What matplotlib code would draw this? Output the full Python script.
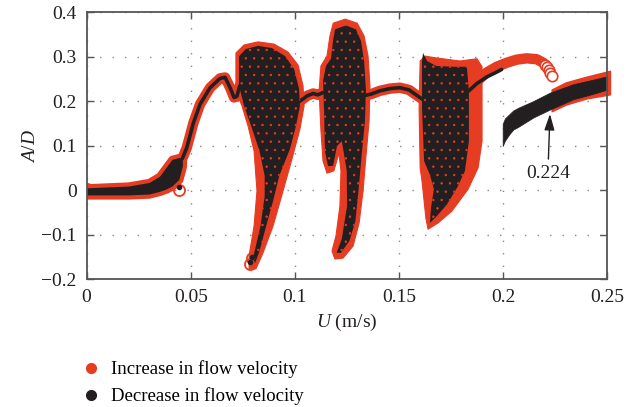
import matplotlib
matplotlib.use('Agg')
import matplotlib.pyplot as plt
from matplotlib.lines import Line2D
from matplotlib.ticker import FixedLocator, FuncFormatter

plt.rcParams['font.family'] = ['Liberation Serif', 'DejaVu Serif']
plt.rcParams['mathtext.fontset'] = 'custom'
plt.rcParams['mathtext.rm'] = 'Liberation Serif'
plt.rcParams['mathtext.it'] = 'Liberation Serif:italic'
plt.rcParams['hatch.linewidth'] = 0.5

RED = '#E63C22'
BLACK = '#231F20'

# ---- data (U in m/s, A/D) ----
# narrow band at low velocity
wedge_u = [0.0, 0.01, 0.02, 0.03, 0.035, 0.038, 0.041, 0.0443, 0.046]
wedge_hi = [0.006, 0.008, 0.010, 0.018, 0.032, 0.051, 0.070, 0.074, 0.072]
wedge_lo = [-0.010, -0.010, -0.010, -0.008, -0.002, 0.003, 0.010, 0.025, 0.055]

# periodic branches (both sweeps)
rise_u = [0.046, 0.0481, 0.0513, 0.0545, 0.0593, 0.0641, 0.0665, 0.0689, 0.0708, 0.0722, 0.0735]
rise_a = [0.072, 0.096, 0.152, 0.194, 0.231, 0.252, 0.254, 0.231, 0.209, 0.212, 0.235]
mid1_u = [0.1015, 0.1040, 0.1060, 0.1088, 0.1110, 0.1135]
mid1_a = [0.198, 0.206, 0.213, 0.218, 0.215, 0.220]
mid2_u = [0.1341, 0.1368, 0.1408, 0.1456, 0.1504, 0.1548, 0.1584, 0.1612]
mid2_a = [0.214, 0.217, 0.224, 0.229, 0.231, 0.226, 0.214, 0.205]

# branch seen only when velocity increases
inc_arc_u = [0.1835, 0.1872, 0.1920, 0.1968, 0.2016, 0.2064, 0.2112, 0.2160, 0.2192, 0.2215]
inc_arc_a = [0.224, 0.245, 0.265, 0.278, 0.287, 0.294, 0.297, 0.295, 0.287, 0.272]
inc_ring_u = [0.2200, 0.2210, 0.2218, 0.2226, 0.2232]
inc_ring_a = [0.283, 0.277, 0.270, 0.263, 0.257]
inc_end_u = [0.2232, 0.2300, 0.2400, 0.2512]
inc_end_hi = [0.227, 0.243, 0.256, 0.269]
inc_end_lo = [0.178, 0.193, 0.207, 0.216]
inc_spots_u = [0.0, 0.0443, 0.0785, 0.0792]
inc_spots_a = [0.004, 0.002, -0.166, -0.152]

# branch seen only when velocity decreases
dec_arc_u = [0.1835, 0.1872, 0.1920, 0.1968, 0.1992]
dec_arc_a = [0.224, 0.240, 0.255, 0.266, 0.272]
dec_end_u = [0.1997, 0.2008, 0.2030, 0.2048, 0.2072, 0.2144, 0.2224, 0.2336, 0.2430, 0.2500]
dec_end_hi = [0.150, 0.162, 0.172, 0.180, 0.186, 0.201, 0.220, 0.239, 0.249, 0.257]
dec_end_lo = [0.100, 0.112, 0.127, 0.137, 0.143, 0.164, 0.182, 0.205, 0.217, 0.227]
dec_spots_u = [0.0443, 0.0785, 0.0792]
dec_spots_a = [0.008, -0.160, -0.150]

# chaotic regions: outlines of the increase (red) and decrease (black) clouds
r1_red_u = [0.0717, 0.0756, 0.0823, 0.0900, 0.0967, 0.1015, 0.1039, 0.1044, 0.1024, 0.0986,
            0.0943, 0.0895, 0.0847, 0.0813, 0.0780, 0.0780, 0.0804, 0.0818, 0.0804, 0.0775,
            0.0746, 0.0717]
r1_red_a = [0.309, 0.327, 0.334, 0.329, 0.311, 0.282, 0.235, 0.190, 0.138, 0.071,
            -0.001, -0.080, -0.140, -0.176, -0.176, -0.147, -0.080, -0.001, 0.089, 0.145,
            0.190, 0.224]
r1_blk_u = [0.0732, 0.0765, 0.0823, 0.0890, 0.0953, 0.0996, 0.1020, 0.1024, 0.1005, 0.0976,
            0.0925, 0.0895, 0.0862, 0.0830, 0.0809, 0.0799, 0.0835, 0.0855, 0.0855, 0.0830,
            0.0790, 0.0756, 0.0732]
r1_blk_a = [0.302, 0.318, 0.325, 0.320, 0.302, 0.273, 0.228, 0.190, 0.145, 0.093,
            0.033, -0.024, -0.080, -0.136, -0.163, -0.152, -0.080, -0.012, 0.033, 0.089,
            0.145, 0.190, 0.235]

r2_red_u = [0.1184, 0.1241, 0.1299, 0.1332, 0.1351, 0.1360, 0.1356, 0.1341, 0.1327, 0.1308,
            0.1279, 0.1231, 0.1192, 0.1178, 0.1197, 0.1216, 0.1221, 0.1211, 0.1187, 0.1154,
            0.1135, 0.1125, 0.1116, 0.1125, 0.1154, 0.1168]
r2_red_a = [0.376, 0.385, 0.376, 0.347, 0.302, 0.235, 0.156, 0.078, -0.001, -0.073,
            -0.125, -0.152, -0.154, -0.136, -0.102, -0.035, 0.044, 0.084, 0.044, 0.039,
            0.066, 0.134, 0.224, 0.280, 0.302, 0.347]
r2_blk_u = [0.1192, 0.1245, 0.1293, 0.1317, 0.1332, 0.1341, 0.1336, 0.1320, 0.1305, 0.1290,
            0.1262, 0.1221, 0.1200, 0.1225, 0.1250, 0.1249, 0.1225, 0.1202, 0.1183, 0.1159,
            0.1144, 0.1140, 0.1135, 0.1149, 0.1173, 0.1183]
r2_blk_a = [0.362, 0.371, 0.362, 0.336, 0.291, 0.224, 0.156, 0.078, -0.001, -0.069,
            -0.113, -0.140, -0.140, -0.109, -0.035, 0.044, 0.111, 0.100, 0.055, 0.055,
            0.089, 0.179, 0.246, 0.280, 0.296, 0.336]

r3_red_u = [0.1624, 0.1677, 0.1792, 0.1874, 0.1898, 0.1898, 0.1879, 0.1831, 0.1754, 0.1687,
            0.1639, 0.1629, 0.1610, 0.1601, 0.1596, 0.1601]
r3_red_a = [0.302, 0.298, 0.291, 0.296, 0.278, 0.111, 0.051, 0.003, -0.046, -0.073,
            -0.087, -0.064, 0.021, 0.051, 0.185, 0.291]
r3_blk_u = [0.1615, 0.1634, 0.1677, 0.1754, 0.1825, 0.1835, 0.1835, 0.1816, 0.1778, 0.1730,
            0.1682, 0.1648, 0.1653, 0.1667, 0.1648, 0.1620, 0.1610, 0.1610]
r3_blk_a = [0.309, 0.291, 0.280, 0.278, 0.278, 0.224, 0.111, 0.044, 0.006, -0.031,
            -0.057, -0.073, -0.039, 0.003, 0.035, 0.066, 0.185, 0.291]

x_ticks = [0, 0.05, 0.1, 0.15, 0.2, 0.25]
y_ticks = [-0.2, -0.1, 0, 0.1, 0.2, 0.3, 0.4]

fig = plt.figure(figsize=(6.39, 4.07), dpi=100)
ax = fig.add_axes([0.1354, 0.3133, 0.8153, 0.656])

# increase in flow velocity (red open circles -> drawn as red bands)
ax.fill_between(wedge_u, wedge_lo, wedge_hi, color=RED, lw=6, zorder=2)
for u, a in [(rise_u, rise_a), (mid1_u, mid1_a), (mid2_u, mid2_a), (inc_arc_u, inc_arc_a)]:
    ax.plot(u, a, color=RED, lw=7.5, solid_capstyle='round', zorder=2)
for u, a in [(r1_red_u, r1_red_a), (r2_red_u, r2_red_a), (r3_red_u, r3_red_a)]:
    ax.fill(u, a, color=RED, lw=0.8, joinstyle='round', zorder=2)
ax.plot(inc_ring_u, inc_ring_a, 'o', mfc='white', mec=RED, ms=7.5, mew=1.2, zorder=2)
ax.fill_between(inc_end_u, inc_end_lo, inc_end_hi, color=RED, lw=1, zorder=2, clip_on=False)
ax.plot(inc_spots_u, inc_spots_a, 'o', mfc='none', mec=RED, ms=8, mew=1.3, zorder=2)

# decrease in flow velocity (black dots, red circles showing through)
ax.fill_between(wedge_u, wedge_lo, wedge_hi, color=BLACK, lw=0, zorder=3)
for u, a in [(rise_u, rise_a), (mid1_u, mid1_a), (mid2_u, mid2_a), (dec_arc_u, dec_arc_a)]:
    ax.plot(u, a, color=BLACK, lw=2.6, solid_capstyle='round', zorder=3)
for u, a in [(r1_blk_u, r1_blk_a), (r2_blk_u, r2_blk_a), (r3_blk_u, r3_blk_a)]:
    ax.fill(u, a, facecolor=BLACK, edgecolor=RED, lw=0, hatch='..', zorder=3)
ax.fill_between(dec_end_u, dec_end_lo, dec_end_hi, color=BLACK, lw=0.5, zorder=3)
ax.plot(dec_spots_u, dec_spots_a, 'o', color=BLACK, ms=3, zorder=3)

ax.annotate('0.224', xy=(0.2224, 0.172), xytext=(0.2214, 0.039),
            ha='center', va='center', fontsize=14, color=BLACK,
            arrowprops=dict(arrowstyle='-|>,head_width=0.22,head_length=0.7',
                            color=BLACK, lw=1, shrinkA=2, shrinkB=0))

ax.set_xlim(0, 0.25)
ax.set_ylim(-0.2, 0.4)
ax.xaxis.set_major_locator(FixedLocator(x_ticks))
ax.yaxis.set_major_locator(FixedLocator(y_ticks))
fmt = FuncFormatter(lambda v, p: f'{v:g}'.replace('-', '\u2212'))
ax.xaxis.set_major_formatter(fmt)
ax.yaxis.set_major_formatter(fmt)
ax.tick_params(direction='in', length=5, width=1, color='#555555', labelsize=14,
               top=True, right=True, pad=7, labelcolor=BLACK)
ax.grid(True, color='#888888', lw=1, linestyle=(0, (1, 8)), zorder=1)
ax.set_axisbelow(True)
for s in ax.spines.values():
    s.set_color('#555555')
    s.set_linewidth(1.3)
    s.set_zorder(4)

ax.set_xlabel('$U$ (m/s)', fontsize=14, color=BLACK, labelpad=4)
ax.set_ylabel('$A/D$', fontsize=14, color=BLACK, labelpad=2)

handles = [Line2D([], [], ls='', marker='o', color=RED, ms=7),
           Line2D([], [], ls='', marker='o', color=BLACK, ms=7)]
fig.legend(handles, ['Increase in flow velocity', 'Decrease in flow velocity'],
           loc='upper left', bbox_to_anchor=(0.13, 0.115), frameon=False,
           fontsize=13.5, handlelength=0.8, handletextpad=0.7, labelspacing=0.5,
           borderaxespad=0, borderpad=0)

fig.savefig('out.png', dpi=100)
